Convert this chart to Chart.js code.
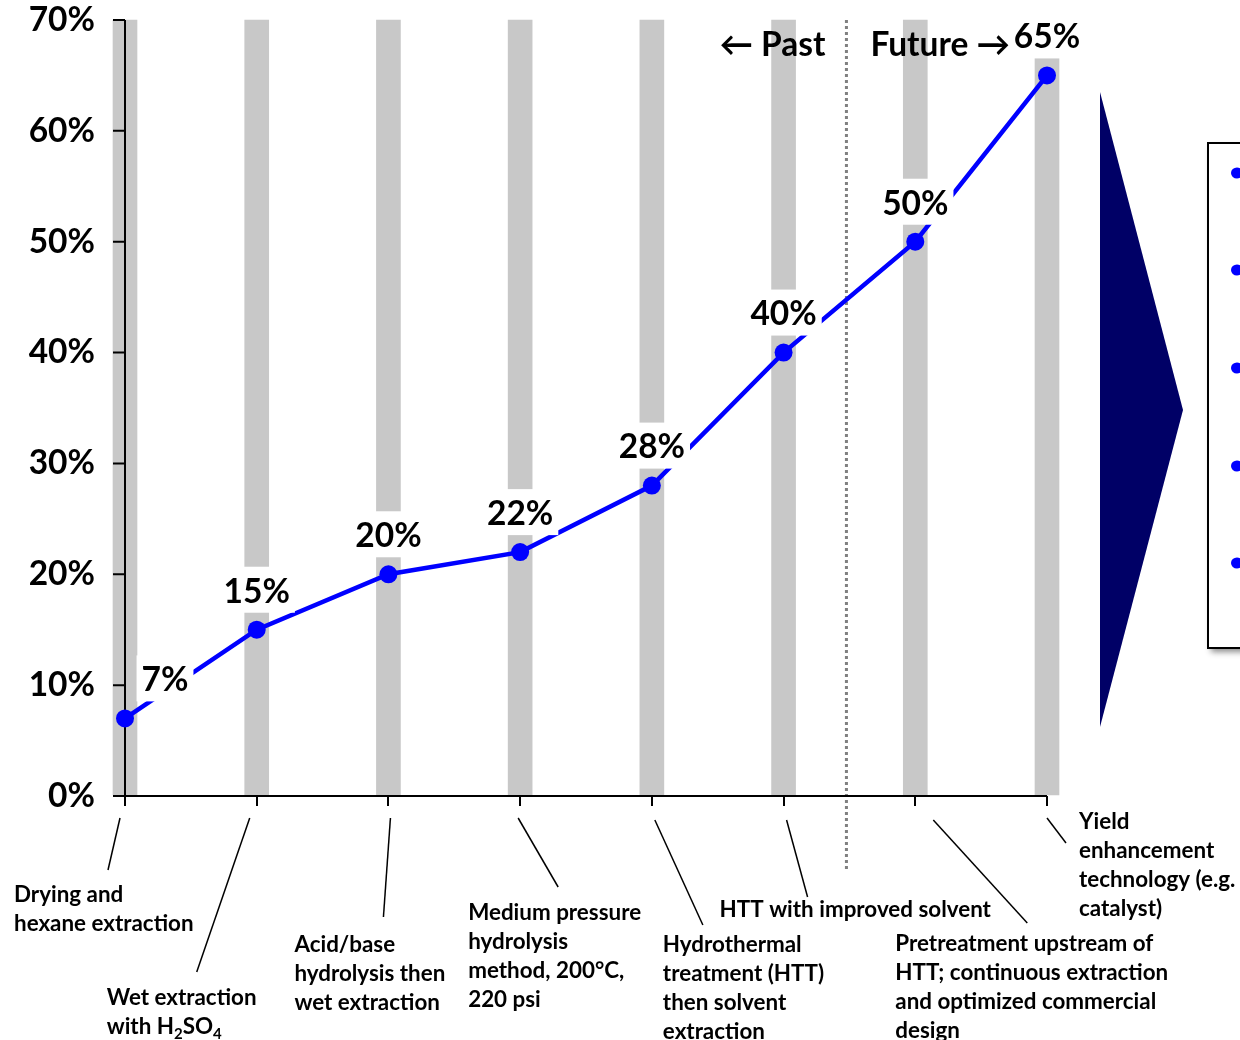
<!DOCTYPE html>
<html>
<head>
<meta charset="utf-8">
<script src="https://cdn.jsdelivr.net/npm/chart.js@4.4.1/dist/chart.umd.min.js"></script>
<style>
  html, body { margin: 0; padding: 0; background: #fff; }
  #wrap { width: 1240px; height: 1040px; position: relative; }
</style>
</head>
<body>
<div id="wrap"><canvas id="yieldChart"></canvas></div>
<script>
// chart data
const categories = [
  'Drying and hexane extraction',
  'Wet extraction with H2SO4',
  'Acid/base hydrolysis then wet extraction',
  'Medium pressure hydrolysis method, 200°C, 220 psi',
  'Hydrothermal treatment (HTT) then solvent extraction',
  'HTT with improved solvent',
  'Pretreatment upstream of HTT; continuous extraction and optimized commercial design',
  'Yield enhancement technology (e.g. catalyst)'
];
const yieldValues = [7, 15, 20, 22, 28, 40, 50, 65];
const backdropValues = [70, 70, 70, 70, 70, 70, 70, 70];
const yTicks = [0, 10, 20, 30, 40, 50, 60, 70];
// wrapped category text, "_" marks a subscript character
const categoryLines = [
  ['Drying and', 'hexane extraction'],
  ['Wet extraction', 'with H_2SO_4'],
  ['Acid/base', 'hydrolysis then', 'wet extraction'],
  ['Medium pressure', 'hydrolysis', 'method, 200°C,', '220 psi'],
  ['Hydrothermal', 'treatment (HTT)', 'then solvent', 'extraction'],
  ['HTT with improved solvent'],
  ['Pretreatment upstream of', 'HTT; continuous extraction', 'and optimized commercial', 'design'],
  ['Yield', 'enhancement', 'technology (e.g.', 'catalyst)']
];
const pastLabel = '\u2190 Past';
const futureLabel = 'Future \u2192';

const FONT = 'Lato, "Open Sans", sans-serif';
const BIG = 33.5;
const SMALL = 22.4;

// leader line + label placement, relative to each tick
const labelLayout = [
  { x0: -5, y0: 818, x1: -17, y1: 870, tx: -111, ty: 895 },
  { x0: -7, y0: 818, x1: -60, y1: 972, tx: -150, ty: 998 },
  { x0: 2, y0: 818, x1: -5, y1: 917, tx: -94, ty: 945 },
  { x0: -2, y0: 818, x1: 38, y1: 887, tx: -52, ty: 913 },
  { x0: 3, y0: 820, x1: 51, y1: 925, tx: 11, ty: 945 },
  { x0: 3, y0: 820, x1: 24, y1: 897, tx: -64, ty: 910 },
  { x0: 18, y0: 820, x1: 112, y1: 923, tx: -20, ty: 944 },
  { x0: 0, y0: 818, x1: 19, y1: 843, tx: 32, ty: 822 }
];

function drawRich(ctx, str, x, y, size) {
  const parts = str.match(/_.|[^_]+/g);
  let cx = x;
  parts.forEach(p => {
    const sub = p[0] === '_';
    const t = sub ? p.slice(1) : p;
    ctx.font = `bold ${sub ? Math.round(size * 0.65) : size}px ${FONT}`;
    ctx.fillText(t, cx, sub ? y + size * 0.3 : y);
    cx += ctx.measureText(t).width;
  });
}

function dividerX(chart) {
  const x = chart.scales.x;
  return (x.getPixelForValue(5) + x.getPixelForValue(6)) / 2 - 3;
}

const decorPlugin = {
  id: 'decor',
  beforeDatasetsDraw(chart) {
    const ctx = chart.ctx, area = chart.chartArea;
    const xd = dividerX(chart);
    ctx.save();
    ctx.strokeStyle = '#808080';
    ctx.lineWidth = 3;
    ctx.setLineDash([3, 3]);
    ctx.beginPath();
    ctx.moveTo(xd, area.top);
    ctx.lineTo(xd, 870);
    ctx.stroke();
    ctx.restore();
  },
  beforeDatasetDraw(chart, args) {
    if (args.index !== 0) return;
    // axes on top of the grey columns, under the line
    const ctx = chart.ctx, y = chart.scales.y, area = chart.chartArea;
    ctx.save();
    ctx.strokeStyle = '#000';
    ctx.lineWidth = 2;
    ctx.beginPath();
    ctx.moveTo(area.left, area.top);
    ctx.lineTo(area.left, area.bottom);
    ctx.moveTo(area.left - 12, area.bottom);
    ctx.lineTo(area.right, area.bottom);
    yTicks.forEach(v => {
      const py = y.getPixelForValue(v);
      ctx.moveTo(area.left - 12, py);
      ctx.lineTo(area.left, py);
    });
    ctx.stroke();
    ctx.restore();
  },
  afterDatasetsDraw(chart) {
    const ctx = chart.ctx;
    const pts = chart.getDatasetMeta(0).data;
    const xd = dividerX(chart);
    ctx.save();
    ctx.fillStyle = '#000';
    ctx.font = `bold ${BIG}px ${FONT}`;
    ctx.textBaseline = 'middle';
    ctx.textAlign = 'right';
    ctx.fillText(pastLabel, xd - 21, 45);
    ctx.textAlign = 'left';
    ctx.fillText(futureLabel, xd + 24, 45);

    ctx.textAlign = 'center';
    pts.forEach((p, i) => {
      const txt = yieldValues[i] + '%';
      const cx = p.x + (i === 0 ? 40 : 0);
      const cy = p.y - 38;
      const w = ctx.measureText(txt).width + 10;
      ctx.fillStyle = '#fff';
      ctx.fillRect(cx - w / 2, cy - 25, w, 46);
      ctx.fillStyle = '#000';
      ctx.fillText(txt, cx, cy);
    });
    ctx.restore();
  },
  afterDraw(chart) {
    const ctx = chart.ctx, x = chart.scales.x;
    ctx.save();
    // category labels with leader lines
    ctx.strokeStyle = '#000';
    ctx.lineWidth = 1.5;
    ctx.fillStyle = '#000';
    ctx.textBaseline = 'middle';
    ctx.textAlign = 'left';
    categoryLines.forEach((lines, i) => {
      const px = x.getPixelForValue(i);
      const L = labelLayout[i];
      ctx.beginPath();
      ctx.moveTo(px + L.x0, L.y0);
      ctx.lineTo(px + L.x1, L.y1);
      ctx.stroke();
      lines.forEach((ln, j) => drawRich(ctx, ln, px + L.tx, L.ty + j * 29, SMALL));
    });
    // arrow shape
    ctx.fillStyle = '#000066';
    ctx.beginPath();
    ctx.moveTo(1100, 92);
    ctx.lineTo(1183, 410);
    ctx.lineTo(1100, 727);
    ctx.closePath();
    ctx.fill();
    // bullet box (cut off at right edge)
    ctx.save();
    ctx.shadowColor = 'rgba(0,0,0,0.45)';
    ctx.shadowBlur = 6;
    ctx.shadowOffsetX = 3;
    ctx.shadowOffsetY = 4;
    ctx.fillStyle = '#fff';
    ctx.fillRect(1208, 143, 60, 505);
    ctx.restore();
    ctx.lineWidth = 2;
    ctx.strokeRect(1208, 143, 60, 505);
    ctx.fillStyle = '#0000ff';
    [173, 270, 368, 466, 563].forEach(by => {
      ctx.beginPath();
      ctx.ellipse(1237, by, 6, 5.5, 0, 0, Math.PI * 2);
      ctx.fill();
    });
    ctx.restore();
  }
};

new Chart(document.getElementById('yieldChart'), {
  type: 'line',
  data: {
    labels: categories,
    datasets: [
      {
        type: 'line',
        data: yieldValues,
        borderColor: '#0000ff',
        backgroundColor: '#0000ff',
        borderWidth: 4.5,
        pointRadius: 9,
        pointBorderWidth: 0,
        tension: 0,
        clip: false,
        order: 0
      },
      {
        type: 'bar',
        data: backdropValues,
        backgroundColor: '#c8c8c8',
        barThickness: 24,
        clip: false,
        order: 1
      }
    ]
  },
  plugins: [decorPlugin],
  options: {
    responsive: true,
    maintainAspectRatio: false,
    animation: false,
    events: [],
    layout: { padding: { top: 20, right: 193, bottom: 0, left: 0 } },
    plugins: { legend: { display: false }, tooltip: { enabled: false } },
    scales: {
      x: {
        type: 'category',
        offset: false,
        grid: { display: true, offset: false, drawOnChartArea: false, drawTicks: true, tickLength: 10, color: '#000', lineWidth: 2 },
        border: { display: false },
        ticks: { display: false },
        afterFit(scale) {
          scale.height = 244;
          scale.paddingLeft = 0;
          scale.paddingRight = 0;
        }
      },
      y: {
        min: 0,
        max: 70,
        grid: { display: true, drawOnChartArea: false, drawTicks: true, tickLength: 12, color: '#000', lineWidth: 2 },
        border: { display: false },
        ticks: {
          stepSize: 10,
          padding: 18,
          color: '#000',
          font: { family: FONT, size: BIG, weight: 'bold' },
          callback: v => v + '%'
        },
        afterFit(scale) {
          scale.width = 125;
          scale.paddingTop = 0;
          scale.paddingBottom = 0;
        }
      }
    }
  }
});
</script>
</body>
</html>
